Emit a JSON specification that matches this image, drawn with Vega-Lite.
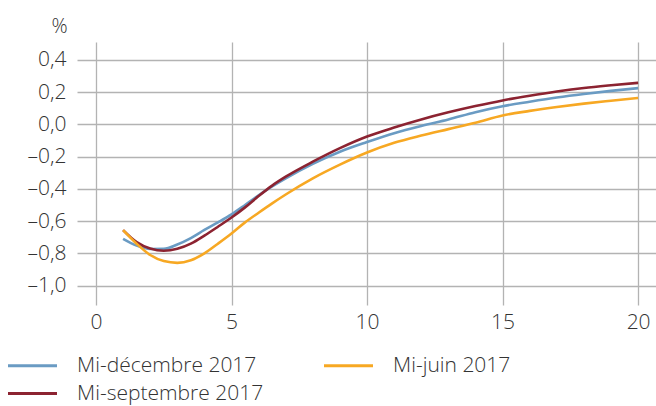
{
  "$schema": "https://vega.github.io/schema/vega-lite/v6.json",
  "width": 579,
  "height": 263,
  "autosize": {"type": "none"},
  "padding": {"left": 77, "top": 42, "right": 0, "bottom": 101},
  "background": "white",
  "config": {
    "view": {"stroke": null},
    "font": "Open Sans",
    "axis": {"labelFont": "Open Sans", "labelFontWeight": 300, "labelColor": "#333333", "labelFontSize": 21, "gridColor": "#b3b3b3", "gridWidth": 1.3, "domain": false, "ticks": false, "gridOpacity": 1},
    "legend": {"labelFont": "Open Sans", "labelFontWeight": 300, "labelColor": "#333333", "labelFontSize": 21, "labelLimit": 400}
  },
  "data": {"values": [
    {"s": "Mi-décembre 2017", "x": 1, "y": -0.71},
    {"s": "Mi-décembre 2017", "x": 1.5, "y": -0.752},
    {"s": "Mi-décembre 2017", "x": 2, "y": -0.773},
    {"s": "Mi-décembre 2017", "x": 2.5, "y": -0.772},
    {"s": "Mi-décembre 2017", "x": 3, "y": -0.745},
    {"s": "Mi-décembre 2017", "x": 3.5, "y": -0.705},
    {"s": "Mi-décembre 2017", "x": 4, "y": -0.655},
    {"s": "Mi-décembre 2017", "x": 4.5, "y": -0.608},
    {"s": "Mi-décembre 2017", "x": 5, "y": -0.558},
    {"s": "Mi-décembre 2017", "x": 5.5, "y": -0.5},
    {"s": "Mi-décembre 2017", "x": 6, "y": -0.44},
    {"s": "Mi-décembre 2017", "x": 6.5, "y": -0.385},
    {"s": "Mi-décembre 2017", "x": 7, "y": -0.335},
    {"s": "Mi-décembre 2017", "x": 8, "y": -0.245},
    {"s": "Mi-décembre 2017", "x": 9, "y": -0.17},
    {"s": "Mi-décembre 2017", "x": 10, "y": -0.11},
    {"s": "Mi-décembre 2017", "x": 11, "y": -0.055},
    {"s": "Mi-décembre 2017", "x": 12, "y": -0.01},
    {"s": "Mi-décembre 2017", "x": 13, "y": 0.03},
    {"s": "Mi-décembre 2017", "x": 14, "y": 0.075},
    {"s": "Mi-décembre 2017", "x": 15, "y": 0.112},
    {"s": "Mi-décembre 2017", "x": 16, "y": 0.14},
    {"s": "Mi-décembre 2017", "x": 17, "y": 0.166},
    {"s": "Mi-décembre 2017", "x": 18, "y": 0.188},
    {"s": "Mi-décembre 2017", "x": 19, "y": 0.207},
    {"s": "Mi-décembre 2017", "x": 20, "y": 0.224},
    {"s": "Mi-septembre 2017", "x": 1, "y": -0.656},
    {"s": "Mi-septembre 2017", "x": 1.5, "y": -0.73},
    {"s": "Mi-septembre 2017", "x": 2, "y": -0.77},
    {"s": "Mi-septembre 2017", "x": 2.5, "y": -0.784},
    {"s": "Mi-septembre 2017", "x": 3, "y": -0.772},
    {"s": "Mi-septembre 2017", "x": 3.5, "y": -0.74},
    {"s": "Mi-septembre 2017", "x": 4, "y": -0.69},
    {"s": "Mi-septembre 2017", "x": 4.5, "y": -0.635},
    {"s": "Mi-septembre 2017", "x": 5, "y": -0.578},
    {"s": "Mi-septembre 2017", "x": 5.5, "y": -0.515},
    {"s": "Mi-septembre 2017", "x": 6, "y": -0.445},
    {"s": "Mi-septembre 2017", "x": 6.5, "y": -0.38},
    {"s": "Mi-septembre 2017", "x": 7, "y": -0.325},
    {"s": "Mi-septembre 2017", "x": 8, "y": -0.232},
    {"s": "Mi-septembre 2017", "x": 9, "y": -0.148},
    {"s": "Mi-septembre 2017", "x": 10, "y": -0.076},
    {"s": "Mi-septembre 2017", "x": 11, "y": -0.02},
    {"s": "Mi-septembre 2017", "x": 12, "y": 0.03},
    {"s": "Mi-septembre 2017", "x": 13, "y": 0.074},
    {"s": "Mi-septembre 2017", "x": 14, "y": 0.113},
    {"s": "Mi-septembre 2017", "x": 15, "y": 0.148},
    {"s": "Mi-septembre 2017", "x": 16, "y": 0.177},
    {"s": "Mi-septembre 2017", "x": 17, "y": 0.203},
    {"s": "Mi-septembre 2017", "x": 18, "y": 0.225},
    {"s": "Mi-septembre 2017", "x": 19, "y": 0.242},
    {"s": "Mi-septembre 2017", "x": 20, "y": 0.257},
    {"s": "Mi-juin 2017", "x": 1, "y": -0.656},
    {"s": "Mi-juin 2017", "x": 1.5, "y": -0.74},
    {"s": "Mi-juin 2017", "x": 2, "y": -0.81},
    {"s": "Mi-juin 2017", "x": 2.5, "y": -0.848},
    {"s": "Mi-juin 2017", "x": 3, "y": -0.859},
    {"s": "Mi-juin 2017", "x": 3.5, "y": -0.843},
    {"s": "Mi-juin 2017", "x": 4, "y": -0.8},
    {"s": "Mi-juin 2017", "x": 4.5, "y": -0.74},
    {"s": "Mi-juin 2017", "x": 5, "y": -0.677},
    {"s": "Mi-juin 2017", "x": 5.5, "y": -0.608},
    {"s": "Mi-juin 2017", "x": 6, "y": -0.548},
    {"s": "Mi-juin 2017", "x": 6.5, "y": -0.49},
    {"s": "Mi-juin 2017", "x": 7, "y": -0.435},
    {"s": "Mi-juin 2017", "x": 8, "y": -0.335},
    {"s": "Mi-juin 2017", "x": 9, "y": -0.25},
    {"s": "Mi-juin 2017", "x": 10, "y": -0.175},
    {"s": "Mi-juin 2017", "x": 11, "y": -0.115},
    {"s": "Mi-juin 2017", "x": 12, "y": -0.07},
    {"s": "Mi-juin 2017", "x": 13, "y": -0.03},
    {"s": "Mi-juin 2017", "x": 14, "y": 0.01},
    {"s": "Mi-juin 2017", "x": 15, "y": 0.055},
    {"s": "Mi-juin 2017", "x": 16, "y": 0.083},
    {"s": "Mi-juin 2017", "x": 17, "y": 0.107},
    {"s": "Mi-juin 2017", "x": 18, "y": 0.128},
    {"s": "Mi-juin 2017", "x": 19, "y": 0.146},
    {"s": "Mi-juin 2017", "x": 20, "y": 0.163}
  ]},
  "mark": {"type": "line", "interpolate": "monotone", "strokeWidth": 2.6},
  "encoding": {
    "x": {
      "field": "x", "type": "quantitative",
      "scale": {"domain": [-0.7, 20.66], "nice": false, "zero": false},
      "axis": {"title": null, "values": [0, 5, 10, 15, 20], "labelPadding": 6, "grid": true}
    },
    "y": {
      "field": "y", "type": "quantitative",
      "scale": {"domain": [-1.12, 0.51], "nice": false, "zero": false},
      "axis": {
        "title": "%", "titleAngle": 0, "titleX": -18, "titleY": -10, "titleAlign": "center", "titleBaseline": "alphabetic",
        "titleFont": "Open Sans", "titleFontWeight": 300, "titleFontSize": 20, "titleColor": "#333333",
        "values": [-1, -0.8, -0.6, -0.4, -0.2, 0, 0.2, 0.4],
        "labelExpr": "(datum.value < -0.001 ? '–' : '') + replace(format(abs(datum.value), '.1f'), '.', ',')",
        "labelPadding": 11, "grid": true
      }
    },
    "color": {
      "field": "s", "type": "nominal",
      "scale": {"domain": ["Mi-décembre 2017", "Mi-juin 2017", "Mi-septembre 2017"], "range": ["#6a9bc3", "#f7a823", "#8c2331"]},
      "legend": {
        "title": null, "orient": "none", "legendX": -55, "legendY": 313, "columns": 2, "direction": "horizontal",
        "symbolType": "M-4,0L4,0", "symbolSize": 150, "symbolStrokeWidth": 3, "labelOffset": 34, "columnPadding": 54, "rowPadding": 6
      }
    }
  }
}
